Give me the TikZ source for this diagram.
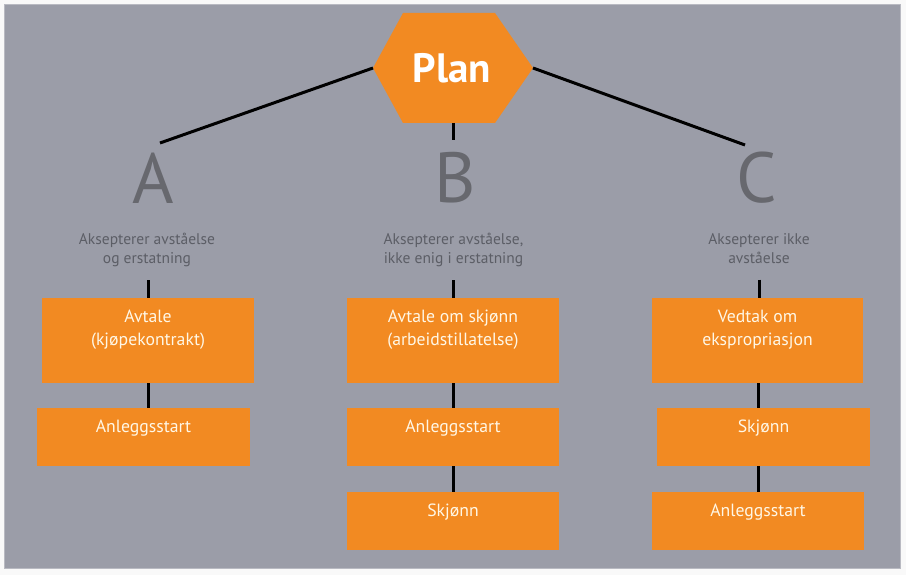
\documentclass[tikz,border=0pt]{standalone}
\usepackage{fontspec}
\setmainfont{PT Sans}

\definecolor{bggray}{HTML}{9B9DA8}
\definecolor{orng}{HTML}{F28A22}
\definecolor{subgray}{HTML}{5C5E66}
\definecolor{lettergray}{HTML}{67686E}
\definecolor{cream}{HTML}{FFF7E6}

\begin{document}
\begin{tikzpicture}[x=1pt, y=-1pt,
    box/.style={fill=orng, minimum width=212pt, minimum height=58pt, inner sep=0pt},
    boxtext/.style={anchor=north, inner sep=0pt, align=center, text=cream, font=\fontsize{17.7}{23}\selectfont},
    subtext/.style={anchor=north, inner sep=0pt, align=center, text=subgray, font=\fontsize{15.5}{19}\selectfont},
    letter/.style={inner sep=0pt, text=lettergray, font=\fontsize{71}{71}\selectfont},
    link/.style={line width=3pt, black}]
        % background
        \fill[white!95!gray] (0,0) rectangle (906,575);
        \draw[fill=bggray, draw=bggray!70!white, line width=1pt] (4,5) rectangle (900,568);

        % hexagon
        \coordinate (hexW) at (373,68);
        \coordinate (hexNW) at (403,13);
        \coordinate (hexNE) at (495,13);
        \coordinate (hexE) at (533,68);
        \coordinate (hexSE) at (495,123);
        \coordinate (hexSW) at (403,123);
        \coordinate (hexS) at (453,123);
        \fill[orng] (hexW) -- (hexNW) -- (hexNE) -- (hexE) -- (hexSE) -- (hexSW) -- cycle;
        \node[text=white, font=\fontsize{41}{41}\selectfont\bfseries] (plan) at (452,68) {Plan};

        % letters
        \node[letter] (A) at (153,178) {A};
        \node[letter] (B) at (455,178) {B};
        \node[letter] (C) at (757,178) {C};
        \coordinate (aend) at (160,143);
        \coordinate (bend) at (453,140);
        \coordinate (cend) at (745,145);
        \draw[link] (hexW) -- (aend);
        \draw[link] (hexS) -- (bend);
        \draw[link] (hexE) -- (cend);

        % subtitles
        \node[subtext] (asub) at (147,233) {Aksepterer avståelse\\og erstatning};
        \node[subtext] (bsub) at (453.5,233) {Aksepterer avståelse,\\ikke enig i erstatning};
        \node[subtext] (csub) at (759,233) {Aksepterer ikke\\avståelse};

        % boxes
        \node[box, minimum height=85pt] (a1) at (148,340.5) {};
        \node[box, minimum width=213pt] (a2) at (143.5,437) {};
        \node[box, minimum height=85pt] (b1) at (453,340.5) {};
        \node[box] (b2) at (453,437) {};
        \node[box] (b3) at (453,521) {};
        \node[box, minimum width=211pt, minimum height=85pt] (c1) at (757.5,340.5) {};
        \node[box, minimum width=213pt] (c2) at (763.5,437) {};
        \node[box] (c3) at (758,521) {};

        \node[boxtext] (a1t) at ([yshift=-12pt]a1.north) {Avtale\\(kjøpekontrakt)};
        \node[boxtext] (a2t) at ([yshift=-12pt]a2.north) {Anleggsstart};
        \node[boxtext] (b1t) at ([yshift=-12pt]b1.north) {Avtale om skjønn\\(arbeidstillatelse)};
        \node[boxtext] (b2t) at ([yshift=-12pt]b2.north) {Anleggsstart};
        \node[boxtext] (b3t) at ([yshift=-12pt]b3.north) {Skjønn};
        \node[boxtext] (c1t) at ([yshift=-12pt]c1.north) {Vedtak om\\ekspropriasjon};
        \node[boxtext] (c2t) at ([yshift=-12pt]c2.north) {Skjønn};
        \node[boxtext] (c3t) at ([yshift=-12pt]c3.north) {Anleggsstart};

        % links
        \draw[link, shorten <=13pt] (a1.north |- asub.south) -- (a1.north);
        \draw[link, shorten <=13pt] (b1.north |- bsub.south) -- (b1.north);
        \draw[link, shorten <=16pt] (csub.south) -- (csub.south |- c1.north);
        \draw[link] (a1.south) -- (a1.south |- a2.north);
        \draw[link] (b1.south) -- (b2.north);
        \draw[link] (b2.south) -- (b3.north);
        \draw[link] (c3.north |- c1.south) -- (c3.north |- c2.north);
        \draw[link] (c3.north |- c2.south) -- (c3.north);
    \end{tikzpicture}
\end{document}
